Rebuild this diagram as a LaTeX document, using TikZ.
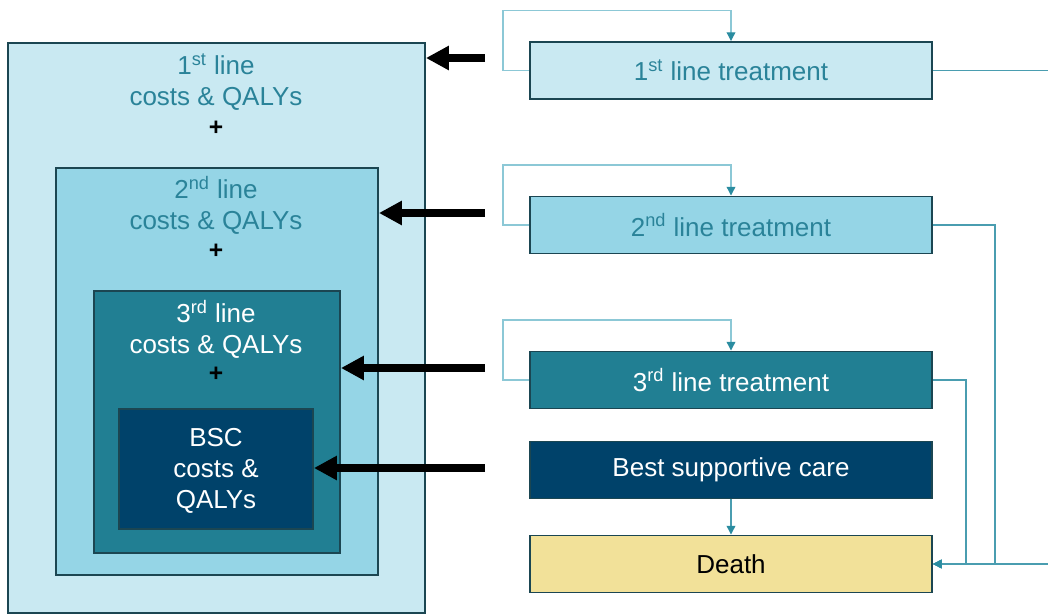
\documentclass[tikz,border=0pt]{standalone}
\usepackage{fontspec}
\setmainfont{Liberation Sans}
\usetikzlibrary{arrows.meta,positioning,calc}

\definecolor{paleblue}{HTML}{C9E9F2}
\definecolor{midblue}{HTML}{95D5E6}
\definecolor{tealbox}{HTML}{217F93}
\definecolor{navybox}{HTML}{00426A}
\definecolor{deathbox}{HTML}{F2E199}
\definecolor{edgecol}{HTML}{1B4652}
\definecolor{tealtext}{HTML}{2A8399}
\definecolor{loopcol}{HTML}{8CC8D6}
\definecolor{linkcol}{HTML}{4A9DB0}
\definecolor{tipcol}{HTML}{2A8CA0}

\tikzset{
  statebox/.style={draw=edgecol, line width=1.1pt, minimum width=8.04cm, minimum height=1.14cm, inner sep=0pt},
  nestbox/.style={draw=edgecol, line width=1.1pt, inner sep=0pt},
  lbl/.style={align=center, font=\fontsize{14.8}{17.6}\selectfont},
  plus/.style={font=\fontsize{14}{16}\selectfont\bfseries},
  loopline/.style={draw=loopcol, line width=0.7pt, -{Triangle[length=5pt,width=5pt,color=tipcol]}},
  link/.style={draw=linkcol, line width=0.7pt, -{Triangle[length=5pt,width=5pt,color=tipcol]}},
  bigarrow/.style={line width=4pt, -{Triangle[length=13pt,width=13pt]}}
}

\begin{document}
\begin{tikzpicture}[x=0.02cm, y=-0.02cm]
    \useasboundingbox (0,0) rectangle (1048,615);
    \clip (0,0) rectangle (1048,615);

    % Geneste kosten
    \node[nestbox, fill=paleblue, minimum width=8.34cm, minimum height=11.4cm] (cost1) at (216.5,328) {};
    \node[nestbox, fill=midblue, minimum width=6.44cm, minimum height=8.14cm] (cost2) at (217,371.5) {};
    \node[nestbox, fill=tealbox, minimum width=4.92cm, minimum height=5.24cm] (cost3) at (217,422) {};
    \node[nestbox, fill=navybox, minimum width=3.88cm, minimum height=2.4cm] (costbsc) at (216,469) {};

    \node[lbl, text=tealtext] (txt1) at (216,82) {1\textsuperscript{st} line\\costs \& QALYs};
    \node[plus] (plus1) at (216,128) {+};
    \node[lbl, text=tealtext] (txt2) at (216,205) {2\textsuperscript{nd} line\\costs \& QALYs};
    \node[plus] (plus2) at (216,251) {+};
    \node[lbl, text=white] (txt3) at (216,329) {3\textsuperscript{rd} line\\costs \& QALYs};
    \node[plus] (plus3) at (216,374) {+};
    \node[lbl, text=white] (txtbsc) at (216,471) {BSC\\costs \&\\QALYs};

    % Toestanden
    \node[statebox, fill=paleblue, text=tealtext, lbl] (line1) at (731,70.5) {1\textsuperscript{st} line treatment};
    \node[statebox, fill=midblue, text=tealtext, lbl] (line2) at (731,225) {2\textsuperscript{nd} line treatment};
    \node[statebox, fill=tealbox, text=white, lbl] (line3) at (731,380) {3\textsuperscript{rd} line treatment};
    \node[statebox, fill=navybox, text=white, lbl] (bsc) at (731,470) {Best supportive care};
    \node[statebox, fill=deathbox, text=black, lbl] (death) at (731,564) {Death};

    % Blijven in toestand
    \foreach \s in {line1,line2,line3}
        \draw[loopline] (\s.west) -- ++(-26,0) -- ++(0,-60) -| (\s.north);

    % Naar overlijden
    \coordinate (j1) at (1052,564);
    \coordinate (j2) at (995,564);
    \coordinate (j3) at (966,564);
    \draw[link] (line1.east) -| (j1) -- (death.east);
    \draw[link] (line2.east) -| (j2) -- (death.east);
    \draw[link] (line3.east) -| (j3) -- (death.east);
    \draw[link] (bsc) -- (death);

    % Kosten per lijn
    \coordinate (a1) at (485,58);
    \coordinate (a2) at (485,213);
    \coordinate (a3) at (485,368);
    \coordinate (a4) at (485,468);
    \draw[bigarrow] (a1) -- (a1 -| cost1.east);
    \draw[bigarrow] (a2) -- (a2 -| cost2.east);
    \draw[bigarrow] (a3) -- (a3 -| cost3.east);
    \draw[bigarrow] (a4) -- (a4 -| costbsc.east);
\end{tikzpicture}
\end{document}
